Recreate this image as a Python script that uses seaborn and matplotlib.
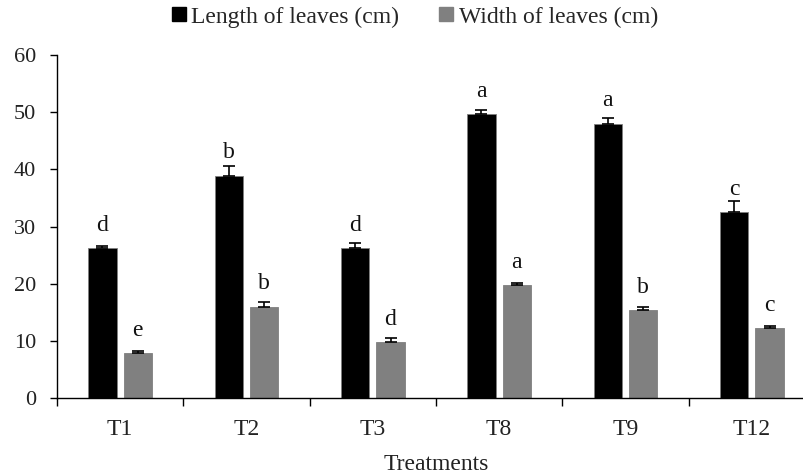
import matplotlib
matplotlib.use("Agg")
import matplotlib.pyplot as plt
import seaborn as sns
import pandas as pd
import numpy as np
from matplotlib.lines import Line2D
from matplotlib.ticker import FixedLocator

treatments = ["T1", "T2", "T3", "T8", "T9", "T12"]
length_vals = [26.2, 38.9, 26.2, 49.7, 48.0, 32.5]
length_err = [0.35, 1.7, 1.0, 0.75, 0.95, 2.0]
width_vals = [7.9, 16.0, 9.85, 19.8, 15.4, 12.3]
width_err = [0.4, 0.8, 0.6, 0.4, 0.6, 0.25]
length_letters = ["d", "b", "d", "a", "a", "c"]
width_letters = ["e", "b", "d", "a", "b", "c"]
series_names = ["Length of leaves (cm)", "Width of leaves (cm)"]
colors = ["#000000", "#808080"]

df = pd.DataFrame({
    "Treatment": treatments * 2,
    "Value": length_vals + width_vals,
    "Series": [series_names[0]] * len(treatments) + [series_names[1]] * len(treatments),
})

sns.set_theme(style="white")
plt.rcParams["font.family"] = ["Liberation Serif", "DejaVu Serif"]

fig = plt.figure(figsize=(8.04, 4.76), dpi=100)
ax = fig.add_axes([57 / 804, 78 / 476, 758 / 804, 343 / 476])

sns.barplot(data=df, x="Treatment", y="Value", hue="Series", order=treatments,
            hue_order=series_names, palette=colors, width=0.56, gap=0.2,
            errorbar=None, ax=ax, legend=False, edgecolor="#7f7f7f", linewidth=0.6,
            saturation=1)

# error bars and letters
n = len(treatments)
patches = ax.patches
for si, (vals, errs, letters) in enumerate([(length_vals, length_err, length_letters),
                                            (width_vals, width_err, width_letters)]):
    for i in range(n):
        p = patches[si * n + i]
        xc = p.get_x() + p.get_width() / 2
        ax.errorbar(xc, vals[i], yerr=[[0], [errs[i]]], fmt="none", ecolor="black",
                    elinewidth=1.2, capsize=4.5, capthick=1.2)
        ax.text(xc, vals[i] + 3.0, letters[i], ha="center", va="baseline",
                fontsize=17, color="#111111")

ax.set_ylim(0, 60)
ax.set_xlim(-0.5, 5.5)
ax.set_yticks([0, 10, 20, 30, 40, 50, 60])
ax.tick_params(axis="y", labelsize=16, length=5, width=1, pad=10, left=True, color="black")
ax.set_xticks(range(n))
ax.set_xticklabels(treatments)
ax.tick_params(axis="x", which="major", length=0, labelsize=17, pad=15)
ax.xaxis.set_minor_locator(FixedLocator([i + 0.5 for i in range(-1, n)]))
ax.tick_params(axis="x", which="minor", length=6, width=1, bottom=True, color="black")
for lbl in ax.get_yticklabels() + ax.get_xticklabels():
    lbl.set_color("#222222")

ax.set_xlabel("Treatments", fontsize=17, labelpad=10, color="#222222")
ax.set_ylabel("")
sns.despine(ax=ax, top=True, right=True)
ax.spines["left"].set_color("black")
ax.spines["bottom"].set_color("black")
ax.spines["left"].set_linewidth(1)
ax.spines["bottom"].set_linewidth(1)

handles = [Line2D([0], [0], marker="s", linestyle="none", markersize=9.5,
                  markerfacecolor=c, markeredgecolor=c) for c in colors]
fig.legend(handles, series_names, loc="center", bbox_to_anchor=(414 / 804, 1 - 17 / 476),
           ncol=2, frameon=False, fontsize=17, handletextpad=0.2, columnspacing=1.6,
           handlelength=0.7, borderpad=0.2)

fig.savefig("out.png", dpi=100)
